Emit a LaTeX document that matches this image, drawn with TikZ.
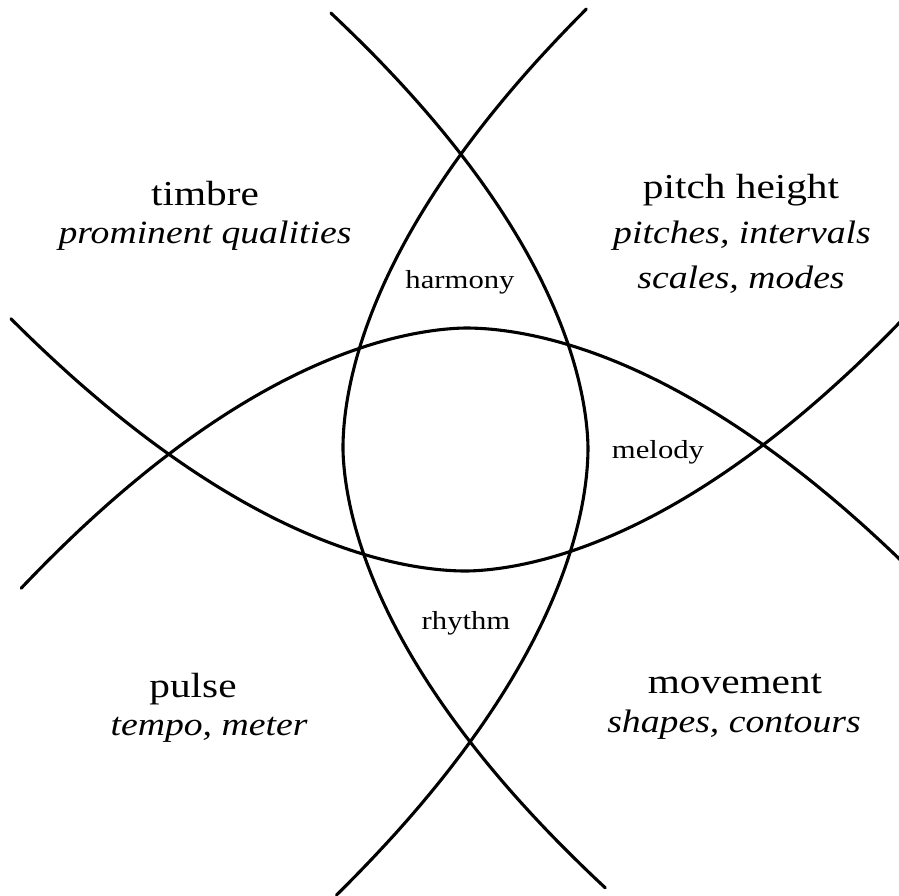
\documentclass[tikz,border=0pt]{standalone}
\usepackage{fontspec}
\setmainfont{Liberation Serif}
\begin{document}
\begin{tikzpicture}[x=1pt,y=-1pt,
  arcline/.style={line width=3.1pt,line cap=round,smooth,samples=120,variable=\t},
  bigtxt/.style={font=\fontsize{35}{38}\selectfont,anchor=base,inner sep=0pt,xscale=1.18},
  subtxt/.style={font=\fontsize{32.5}{36}\selectfont\itshape,anchor=base,inner sep=0pt,xscale=1.16},
  smalltxt/.style={font=\fontsize{26}{29}\selectfont,anchor=base,inner sep=0pt,xscale=1.18}]
\useasboundingbox (0,0) rectangle (899,895);
\begin{scope}[rotate around={0.9:(466,449)}]
% vertical arc bulging right
\draw[arcline] plot[domain=-437:445] ({588-17.6*pow(abs(\t)/100+0.0001,1.8)},{448+\t});
% vertical arc bulging left
\draw[arcline] plot[domain=-437:442] ({343+17.6*pow(abs(\t)/100+0.0001,1.8)},{448+\t});
% horizontal arc bulging down
\draw[arcline] plot[domain=-453:436] ({466+\t},{571-17.1*pow(abs(\t)/100+0.0001,1.8)});
% horizontal arc bulging up
\draw[arcline] plot[domain=-447:436] ({466+\t},{328+17.1*pow(abs(\t)/100+0.0001,1.8)});
\end{scope}
% labels
\node[bigtxt] (timbre) at (205,205) {timbre};
\node[subtxt] (timbresub) at (205,243) {prominent qualities};
\node[bigtxt] (pitch) at (741,198) {pitch height};
\node[subtxt] (pitchsubA) at (742,243) {pitches, intervals};
\node[subtxt] (pitchsubB) at (741,288) {scales, modes};
\node[bigtxt] (pulse) at (193,697) {pulse};
\node[subtxt] (pulsesub) at (209,735) {tempo, meter};
\node[bigtxt] (movement) at (735,693) {movement};
\node[subtxt] (movementsub) at (734,732) {shapes, contours};
\node[smalltxt] (harmony) at (460,288) {harmony};
\node[smalltxt] (melody) at (658,458) {melody};
\node[smalltxt] (rhythm) at (466,629) {rhythm};
\end{tikzpicture}
\end{document}
